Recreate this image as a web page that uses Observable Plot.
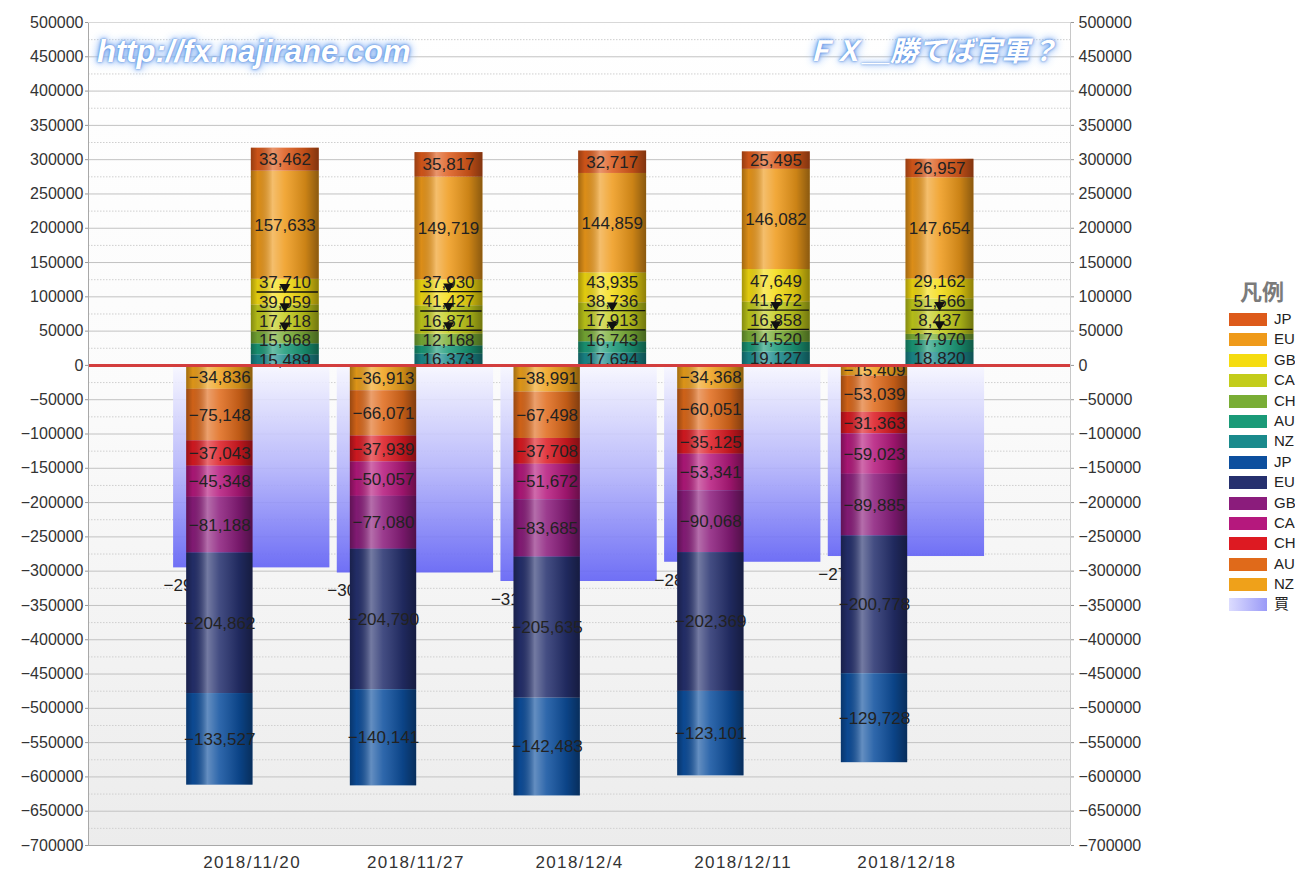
<!DOCTYPE html>
<html><head><meta charset="utf-8">
<script src="https://cdn.jsdelivr.net/npm/d3@7"></script>
<script src="https://cdn.jsdelivr.net/npm/@observablehq/plot@0.6"></script>
<style>
html,body{margin:0;padding:0;background:#fff;overflow:hidden;width:1295px;height:872px;}
#wrap{position:relative;width:1295px;height:872px;font-family:"Liberation Sans",Arial,sans-serif;}
#chart{position:absolute;left:0;top:0;}
.wm{position:absolute;color:#fff;font-weight:bold;font-style:italic;white-space:nowrap;line-height:1;
 text-shadow:0 0 2px #4f86dc,0 0 4px #6a9ee9,0 0 8px #8fb8f4,0 0 12px #b8d3fa;}
#wm1{left:97px;top:36px;font-size:31px;font-family:"Liberation Sans",Arial,sans-serif;}
#wm2{left:806px;top:35px;font-size:28px;font-family:"Noto Sans CJK JP",sans-serif;}
#legend{position:absolute;left:1229px;top:275px;}
#legend .title{font-family:"Noto Sans CJK JP",sans-serif;font-weight:bold;font-size:22px;color:#7b7b7b;margin-left:11px;height:34px;line-height:30px;}
#legend .row{position:relative;height:20.4px;}
#legend .sw{position:absolute;left:0;top:4px;width:38px;height:13px;}
#legend .lb{position:absolute;left:45px;top:1px;font-size:15px;color:#222;line-height:18px;white-space:nowrap;font-family:"Liberation Sans","Noto Sans CJK JP",sans-serif;}
svg [aria-label="x-axis tick label"] text{letter-spacing:1.4px;}
</style>
</head><body>
<div id="wrap">
  <div id="chart"></div>
  <div class="wm" id="wm1">http://fx.najirane.com</div>
  <div class="wm" id="wm2">ＦＸ＿勝てば官軍？</div>
  <div id="legend"></div>
</div>
<script>
// ---------- data ----------
const dates = ["2018/11/20", "2018/11/27", "2018/12/4", "2018/12/11", "2018/12/18"];

// long (positive) positions
const longJPY = [33462, 35817, 32717, 25495, 26957];
const longEUR = [157633, 149719, 144859, 146082, 147654];
const longGBP = [37710, 37930, 43935, 47649, 29162];
const longCAD = [39059, 41427, 38736, 41672, 51566];
const longCHF = [17418, 16871, 17913, 16858, 8437];
const longAUD = [15968, 12168, 16743, 14520, 17970];
const longNZD = [15489, 16373, 17694, 19127, 18820];

// short (negative) positions
const shortJPY = [-133527, -140141, -142483, -123101, -129728];
const shortEUR = [-204862, -204790, -205635, -202369, -200778];
const shortGBP = [-81188, -77080, -83685, -90068, -89885];
const shortCAD = [-45348, -50057, -51672, -53341, -59023];
const shortCHF = [-37043, -37939, -37708, -35125, -31363];
const shortAUD = [-75148, -66071, -67498, -60051, -53039];
const shortNZD = [-34836, -36913, -38991, -34368, -15409];

// legend labels (as visible)
const legendLabels = ["JP", "EU", "GB", "CA", "CH", "AU", "NZ", "JP", "EU", "GB", "CA", "CH", "AU", "NZ", "買"];

// labels that carry a leader line (per date)
const leaderLines = [["GB", "CA", "CH"], ["GB", "CA", "CH"], ["CA", "CH"], ["CA", "CH"], ["CA", "CH"]];

// y ticks
const yMajor = d3.range(-700000, 500001, 50000);
const yMinor = d3.range(-675000, 500000, 50000);

// ---------- styles ----------
const colors = {
  "L-JP": "#dd5a1a", "L-EU": "#ef9a1a", "L-GB": "#f5dc10", "L-CA": "#c3cc1a",
  "L-CH": "#79ad35", "L-AU": "#1a9a78", "L-NZ": "#1a8a8c",
  "S-JP": "#0d4f9e", "S-EU": "#25306e", "S-GB": "#8b1c7c", "S-CA": "#b5187d",
  "S-CH": "#dd1a22", "S-AU": "#e06a1a", "S-NZ": "#efa11a"
};
const legendKeys = ["L-JP","L-EU","L-GB","L-CA","L-CH","L-AU","L-NZ","S-JP","S-EU","S-GB","S-CA","S-CH","S-AU","S-NZ"];

// stacking order, bottom (nearest 0) outward
const longOrder = [
  {code: "NZ", values: longNZD}, {code: "AU", values: longAUD}, {code: "CH", values: longCHF},
  {code: "CA", values: longCAD}, {code: "GB", values: longGBP}, {code: "EU", values: longEUR},
  {code: "JP", values: longJPY}
];
const shortOrder = [
  {code: "NZ", values: shortNZD}, {code: "AU", values: shortAUD}, {code: "CH", values: shortCHF},
  {code: "CA", values: shortCAD}, {code: "GB", values: shortGBP}, {code: "EU", values: shortEUR},
  {code: "JP", values: shortJPY}
];

const fmt = d3.format(",");
const GAP = 28100; // min label spacing in data units (~19px)

const segs = [], labels = [], leaders = [], barsL = [], barsS = [], nets = [];
dates.forEach((d, j) => {
  const i = j + 1;
  let base = 0, prev = -Infinity;
  longOrder.forEach(s => {
    const v = s.values[j];
    const y1 = base, y2 = base + v;
    let ly = (y1 + y2) / 2;
    if (ly < prev + GAP) ly = prev + GAP;
    prev = ly;
    segs.push({i, side: "L", key: "L-" + s.code, y1, y2});
    labels.push({i, side: "L", y: ly, text: fmt(v)});
    if (leaderLines[j].includes(s.code)) leaders.push({i, y: ly});
    base = y2;
  });
  const totL = base;
  barsL.push({i, y1: 0, y2: totL});
  base = 0;
  shortOrder.forEach(s => {
    const v = s.values[j];
    const y1 = base, y2 = base + v;
    segs.push({i, side: "S", key: "S-" + s.code, y1, y2});
    labels.push({i, side: "S", y: (y1 + y2) / 2, text: fmt(v)});
    base = y2;
  });
  barsS.push({i, y1: 0, y2: base});
  nets.push({i, net: totL + base});
});

const segL = segs.filter(d => d.side === "L");
const segS = segs.filter(d => d.side === "S");
const labL = labels.filter(d => d.side === "L");
const labS = labels.filter(d => d.side === "S");
const yFmt = v => v < 0 ? "\u2212" + (-v) : String(v);

const svg = Plot.plot({
  width: 1160, height: 872,
  marginLeft: 88, marginRight: 90, marginTop: 22, marginBottom: 27,
  x: {domain: [0, 6], axis: null},
  y: {domain: [-700000, 500000], axis: null},
  color: {domain: legendKeys, range: legendKeys.map(k => colors[k])},
  style: {fontFamily: "Liberation Sans, Arial, sans-serif", fontSize: "16px", color: "#333", background: "transparent", overflow: "visible"},
  marks: [
    Plot.frame({fill: "url(#bgGrad)", stroke: null}),
    Plot.ruleY(yMinor, {stroke: "#cfcfcf", strokeDasharray: "1.5,1.5"}),
    Plot.ruleY(yMajor, {stroke: "#c2c2c2"}),
    // net (買) bars
    Plot.rect(nets, {x1: d => d.i - 0.48, x2: d => d.i + 0.475, y1: 0, y2: "net", fill: "url(#netGrad)", fillOpacity: 0.9}),
    Plot.text(nets, {x: d => d.i - 0.48, y: "net", text: d => fmt(d.net), textAnchor: "start", dx: -10, dy: 18, fontSize: 17, fill: "#222"}),
    // short stacks
    Plot.rect(segS, {x1: d => d.i - 0.40, x2: d => d.i + 0.005, y1: "y1", y2: "y2", fill: "key"}),
    Plot.rect(barsS, {x1: d => d.i - 0.40, x2: d => d.i + 0.005, y1: "y1", y2: "y2", fill: "url(#cyl)"}),
    // long stacks
    Plot.rect(segL, {x1: d => d.i - 0.005, x2: d => d.i + 0.41, y1: "y1", y2: "y2", fill: "key"}),
    Plot.rect(barsL, {x1: d => d.i - 0.005, x2: d => d.i + 0.41, y1: "y1", y2: "y2", fill: "url(#cyl)"}),
    // value labels
    Plot.text(labS, {x: d => d.i - 0.198, y: "y", text: "text", fontSize: 17, fill: "#222"}),
    Plot.text(labL, {x: d => d.i + 0.2, y: "y", text: "text", fontSize: 17, fill: "#222"}),
    Plot.ruleY(leaders, {y: "y", x1: d => d.i + 0.03, x2: d => d.i + 0.405, dy: 9, stroke: "#111", strokeWidth: 1.3}),
    Plot.dot(leaders, {x: d => d.i + 0.2, y: "y", dy: 4, symbol: "triangle", r: 4, fill: "#111", stroke: "none", rotate: 180}),
    // zero line
    Plot.ruleY([0], {stroke: "#d33d3d", strokeWidth: 3}),
    // frame edges
    Plot.ruleX([0], {stroke: "#a8a8a8"}),
    Plot.ruleX([6], {stroke: "#c8c8c8"}),
    Plot.ruleY([500000], {stroke: "#d8d8d8"}),
    Plot.ruleY([-700000], {stroke: "#a8a8a8"}),
    // axes
    Plot.axisY(yMajor, {anchor: "left", tickSize: 3, tickPadding: 2, tickFormat: yFmt, stroke: "#999", fill: "#333"}),
    Plot.axisY(yMajor, {anchor: "right", tickSize: 3, tickPadding: 5, tickFormat: yFmt, stroke: "#999", fill: "#333"}),
    Plot.axisX([1, 2, 3, 4, 5], {anchor: "bottom", tickSize: 0, tickPadding: 10, tickFormat: i => dates[i - 1], fontSize: 17, fill: "#333"})
  ]
});

// gradients
const NS = "http://www.w3.org/2000/svg";
const defs = document.createElementNS(NS, "defs");
function addGrad(id, horizontal, stops) {
  const g = document.createElementNS(NS, "linearGradient");
  g.setAttribute("id", id);
  g.setAttribute("x1", "0"); g.setAttribute("y1", "0");
  g.setAttribute("x2", horizontal ? "1" : "0"); g.setAttribute("y2", horizontal ? "0" : "1");
  stops.forEach(([o, c, a]) => {
    const s = document.createElementNS(NS, "stop");
    s.setAttribute("offset", o); s.setAttribute("stop-color", c); s.setAttribute("stop-opacity", a);
    g.appendChild(s);
  });
  defs.appendChild(g);
}
addGrad("cyl", true, [[0, "#000", 0.32], [0.1, "#000", 0.08], [0.32, "#fff", 0.36], [0.5, "#fff", 0.14], [0.8, "#000", 0.15], [1, "#000", 0.42]]);
addGrad("netGrad", false, [[0, "#f7f7ff", 1], [0.5, "#b4b4fb", 1], [1, "#6161f5", 1]]);
addGrad("bgGrad", false, [[0, "#ffffff", 1], [0.45, "#fbfbfb", 1], [1, "#ececec", 1]]);
svg.insertBefore(defs, svg.firstChild);
document.getElementById("chart").appendChild(svg);

// legend
const lg = document.getElementById("legend");
const t = document.createElement("div"); t.className = "title"; t.textContent = "凡例"; lg.appendChild(t);
legendLabels.forEach((lab, k) => {
  const row = document.createElement("div"); row.className = "row";
  const sw = document.createElement("div"); sw.className = "sw";
  sw.style.background = k < legendKeys.length ? colors[legendKeys[k]] : "linear-gradient(90deg,#dcdcff,#9a9af7)";
  const tx = document.createElement("div"); tx.className = "lb"; tx.textContent = lab;
  row.appendChild(sw); row.appendChild(tx); lg.appendChild(row);
});
</script>
</body></html>
